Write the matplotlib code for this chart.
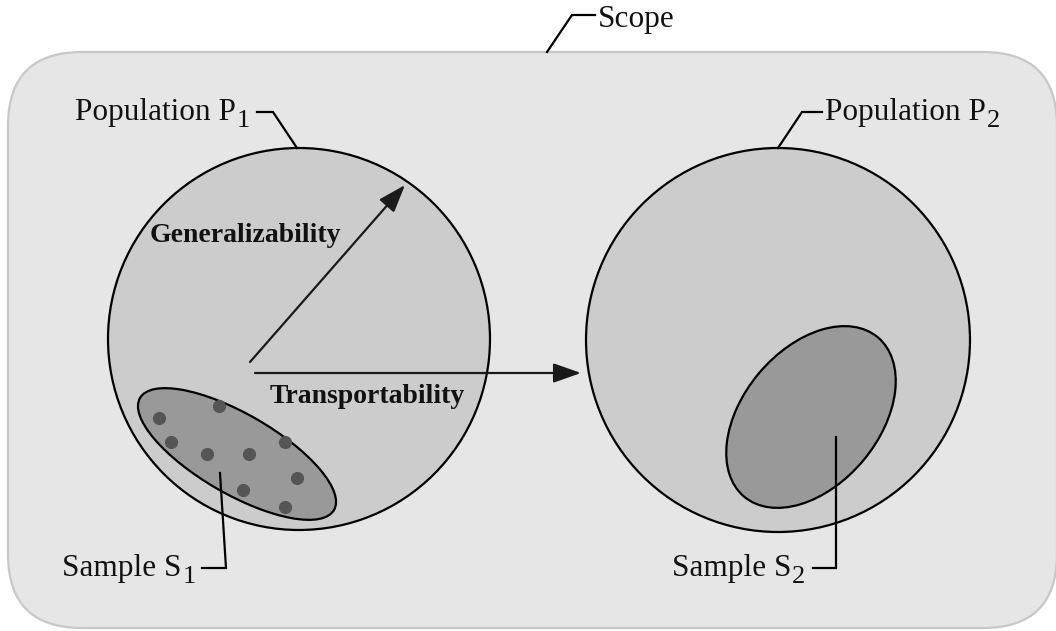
import matplotlib
matplotlib.use("Agg")
import matplotlib.pyplot as plt
from matplotlib.patches import Circle, Ellipse, FancyBboxPatch

plt.rcParams['font.family'] = ['Liberation Serif', 'DejaVu Serif']

# ---- data (pixel-space diagram coordinates, y downward) ----
scope_box = (8, 52, 1049, 576)          # x, y, w, h
population_centers = [(299, 339), (778, 340)]
population_radius = [191, 192]
sample_centers = [(237, 454), (811, 417)]
sample_axes = [(224, 80), (208, 136)]   # full width, height
sample_angles = [30, -50]
dots_x = [219, 159, 171, 207, 249, 285, 297, 243, 285]
dots_y = [406, 418, 442, 454, 454, 442, 478, 490, 507]

labels_main = ["Population P", "Population P", "Sample S", "Sample S", "Scope"]
labels_sub = ["1", "2", "1", "2", ""]
labels_pos = [(75, 120), (825, 120), (62, 576), (672, 576), (598, 27)]

leaders = [
    [(257, 112), (273, 112), (297, 148)],
    [(822, 112), (802, 112), (778, 148)],
    [(202, 568), (226, 568), (220, 473)],
    [(813, 568), (836, 568), (836, 437)],
    [(595, 15), (572, 15), (547, 52)],
]

arrow_starts = [(250, 362), (255, 373)]
arrow_tips = [(405, 185), (581, 373)]
arrow_labels = ["Generalizability", "Transportability"]
arrow_label_pos = [(150, 242), (270, 403)]

# ---- figure ----
fig = plt.figure(figsize=(10.56, 6.31), dpi=100)
ax = fig.add_axes([0, 0, 1, 1])
ax.set_xlim(0, 1056)
ax.set_ylim(631, 0)
ax.axis('off')

x, y, w, h = scope_box
ax.add_patch(FancyBboxPatch((x, y), w, h,
                            boxstyle="round,pad=0,rounding_size=74",
                            facecolor='#e6e6e6', edgecolor='#c8c8c8',
                            lw=1.6, zorder=0))

for (cx, cy), r in zip(population_centers, population_radius):
    ax.add_patch(Circle((cx, cy), r, facecolor='#cccccc', edgecolor='black',
                        lw=1.6, zorder=1))

for (cx, cy), (ew, eh), ang in zip(sample_centers, sample_axes, sample_angles):
    ax.add_patch(Ellipse((cx, cy), ew, eh, angle=ang, facecolor='#999999',
                         edgecolor='black', lw=1.6, zorder=2))

ax.scatter(dots_x, dots_y, s=90, color='#555555', zorder=3, linewidths=0)

for pts in leaders:
    xs, ys = zip(*pts)
    ax.plot(xs, ys, color='black', lw=1.6, zorder=4, solid_joinstyle='miter')

for s, t in zip(arrow_starts, arrow_tips):
    ax.annotate("", xy=t, xytext=s,
                arrowprops=dict(arrowstyle='-|>,head_length=0.85,head_width=0.3',
                                mutation_scale=20, lw=1.6, color='#1a1a1a',
                                shrinkA=0, shrinkB=0), zorder=5)

for txt, (tx, ty) in zip(arrow_labels, arrow_label_pos):
    ax.text(tx, ty, txt, fontsize=20, fontweight='bold', ha='left',
            va='baseline', color='#111111', zorder=6)

for main, sub, (tx, ty) in zip(labels_main, labels_sub, labels_pos):
    t = ax.text(tx, ty, main, fontsize=22.5, ha='left', va='baseline',
                color='#111111', zorder=6)
    if sub:
        ax.annotate(sub, xy=(1, 0), xycoords=t, xytext=(0.5, 0),
                    textcoords='offset points', fontsize=19, ha='left',
                    va='baseline', color='#111111', zorder=6)

fig.savefig("out.png", dpi=100, facecolor='white')
